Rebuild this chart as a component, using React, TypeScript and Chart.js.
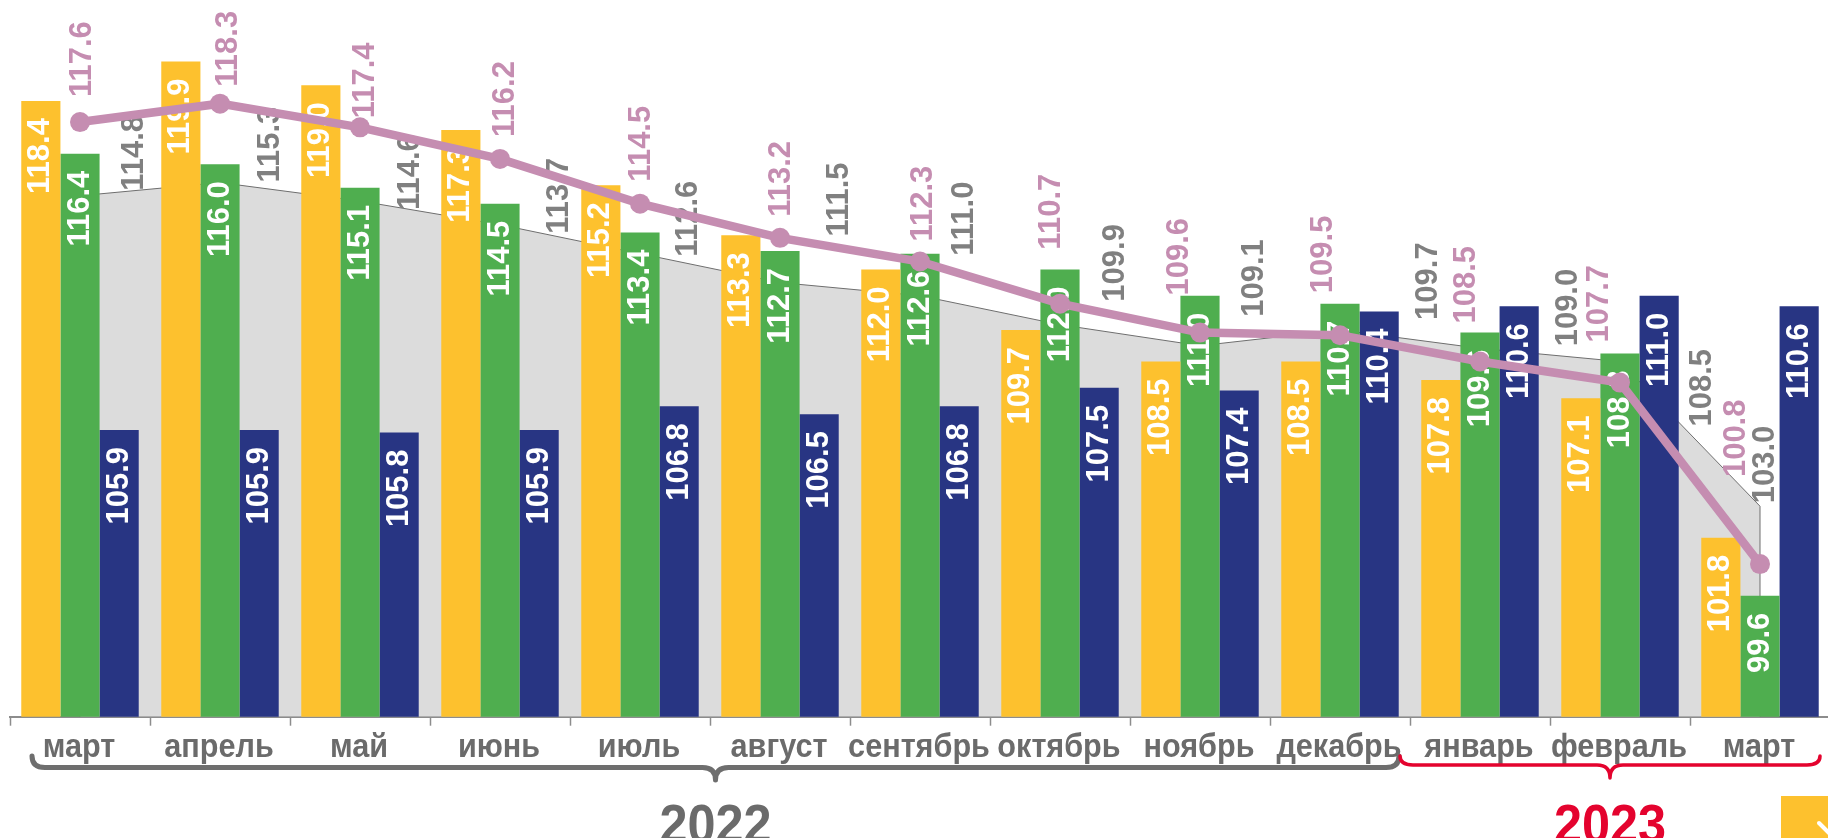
import React, { useEffect, useRef } from 'react';
import { Chart, registerables } from 'chart.js';

Chart.register(...registerables);

// ---------- data ----------
const months = ['март', 'апрель', 'май', 'июнь', 'июль', 'август', 'сентябрь', 'октябрь', 'ноябрь', 'декабрь', 'январь', 'февраль', 'март'];
const yellowValues = [118.4, 119.9, 119.0, 117.3, 115.2, 113.3, 112.0, 109.7, 108.5, 108.5, 107.8, 107.1, 101.8];
const greenValues = [116.4, 116.0, 115.1, 114.5, 113.4, 112.7, 112.6, 112.0, 111.0, 110.7, 109.6, 108.8, 99.6];
const blueValues = [105.9, 105.9, 105.8, 105.9, 106.8, 106.5, 106.8, 107.5, 107.4, 110.4, 110.6, 111.0, 110.6];
const areaValues = [114.8, 115.3, 114.6, 113.7, 112.6, 111.5, 111.0, 109.9, 109.1, 109.7, 109.0, 108.5, 103.0];
const lineValues = [117.6, 118.3, 117.4, 116.2, 114.5, 113.2, 112.3, 110.7, 109.6, 109.5, 108.5, 107.7, 100.8];
const yearLabels = ['2022', '2023'];
const yearFirstIndex = [0, 10];
const yearLastIndex = [9, 12];

// ---------- label nudges (style only) ----------
const lineLabelDx = [2, 8, 5, 5, 1, 1, 3, -9, -21, -17, -14, -21, -24];
const lineLabelGap = [25, 17, 9, 22, 22, 21, 20, 54, 37, 42, 38, 40, 87];
const areaLabelDx = [54, 50, 50, 59, 48, 59, 44, 55, 54, 88, 88, 82, 5];
const areaLabelGap = [5, 0, -9, -9, -3, 46, 40, 23, 29, 10, 2, -65, 3];
const BAR_LABEL_GAP = 17;

const YELLOW = '#FDC12E';
const GREEN = '#4FAE4F';
const BLUE = '#283583';
const AREA_FILL = '#DCDCDC';
const AREA_LINE = '#6E6E6E';
const PINK = '#C58DB1';
const GRAY_TEXT = '#808080';
const AXIS_TEXT = '#6B6B6B';
const RED = '#E4032E';

const LABEL_FONT = 'bold 31px "Liberation Sans", Arial, sans-serif';
const AXIS_FONT = 'bold 34px "Liberation Sans", Arial, sans-serif';
const YEAR_FONT = 'bold 56px "Liberation Sans", Arial, sans-serif';
const NARROW = 0.9;

const labelPlugin = {
  id: 'customLabels',
  afterDatasetDraw(chart: any, args: any) {
    const ctx = chart.ctx as CanvasRenderingContext2D;
    const ds = chart.data.datasets[args.index];
    const meta = args.meta;
    const kind = ds.label;
    ctx.save();
    ctx.font = LABEL_FONT;
    ctx.textBaseline = 'middle';
    if (kind === 'area') {
      const els = meta.data;
      const bottom = chart.chartArea.bottom;
      ctx.strokeStyle = AREA_LINE;
      ctx.lineWidth = 1;
      [els[0], els[els.length - 1]].forEach((el: any) => {
        ctx.beginPath();
        ctx.moveTo(el.x, el.y);
        ctx.lineTo(el.x, bottom);
        ctx.stroke();
      });
    }
    meta.data.forEach((el: any, i: number) => {
      const v = ds.data[i] as number;
      const txt = v.toFixed(1);
      ctx.save();
      if (kind === 'area') {
        ctx.translate(el.x + areaLabelDx[i], el.y - areaLabelGap[i]);
        ctx.rotate(-Math.PI / 2);
        ctx.textAlign = 'left';
        ctx.fillStyle = GRAY_TEXT;
      } else if (kind === 'line') {
        ctx.translate(el.x + lineLabelDx[i], el.y - lineLabelGap[i]);
        ctx.rotate(-Math.PI / 2);
        ctx.textAlign = 'left';
        ctx.fillStyle = PINK;
      } else {
        ctx.translate(el.x, el.y + BAR_LABEL_GAP);
        ctx.rotate(-Math.PI / 2);
        ctx.textAlign = 'right';
        ctx.fillStyle = '#FFFFFF';
      }
      ctx.fillText(txt, 0, 0);
      ctx.restore();
    });
    ctx.restore();
  },
};

function drawBrace(ctx: CanvasRenderingContext2D, x0: number, x1: number, yEnd: number, yLine: number, yTip: number, r: number) {
  const mid = (x0 + x1) / 2;
  ctx.beginPath();
  ctx.moveTo(x0, yEnd);
  ctx.quadraticCurveTo(x0, yLine, x0 + r, yLine);
  ctx.lineTo(mid - r, yLine);
  ctx.quadraticCurveTo(mid, yLine, mid, yTip);
  ctx.quadraticCurveTo(mid, yLine, mid + r, yLine);
  ctx.lineTo(x1 - r, yLine);
  ctx.quadraticCurveTo(x1, yLine, x1, yEnd);
  ctx.stroke();
}

const decorPlugin = {
  id: 'decor',
  afterDraw(chart: any) {
    const ctx = chart.ctx as CanvasRenderingContext2D;
    const xs = chart.scales.x;
    const step = xs.getPixelForValue(1) - xs.getPixelForValue(0);
    ctx.save();
    // category labels (condensed bold)
    ctx.font = AXIS_FONT;
    ctx.fillStyle = AXIS_TEXT;
    ctx.textAlign = 'center';
    ctx.textBaseline = 'alphabetic';
    months.forEach((m, i) => {
      ctx.save();
      ctx.translate(xs.getPixelForValue(i) - 1, 757);
      ctx.scale(NARROW, 1);
      ctx.fillText(m, 0, 0);
      ctx.restore();
    });
    const styles = [
      { color: '#6E6E6E', width: 5, start: 22, end: -11, yLine: 767.5, yTip: 780, text: AXIS_TEXT },
      { color: RED, width: 3.5, start: -10, end: -10, yLine: 765, yTip: 778, text: RED },
    ];
    ctx.lineCap = 'round';
    ctx.lineJoin = 'round';
    yearLabels.forEach((yl, k) => {
      const s = styles[k];
      const left = xs.getPixelForValue(yearFirstIndex[k]) - step / 2 + s.start;
      const right = xs.getPixelForValue(yearLastIndex[k]) + step / 2 + s.end;
      ctx.strokeStyle = s.color;
      ctx.lineWidth = s.width;
      drawBrace(ctx, left, right, 756, s.yLine, s.yTip, 13);
      const mid = (left + right) / 2;
      ctx.save();
      ctx.translate(mid, 843);
      ctx.scale(NARROW, 1);
      ctx.font = YEAR_FONT;
      ctx.fillStyle = s.text;
      ctx.textAlign = 'center';
      ctx.textBaseline = 'alphabetic';
      ctx.fillText(yl, 0, 0);
      ctx.restore();
    });
    // partial legend marker at bottom right
    ctx.fillStyle = YELLOW;
    ctx.fillRect(1781, 796, 60, 50);
    ctx.strokeStyle = '#FFFFFF';
    ctx.lineWidth = 4;
    ctx.beginPath();
    ctx.moveTo(1819, 823);
    ctx.lineTo(1830, 834);
    ctx.stroke();
    ctx.restore();
  },
};

export default function App() {
  const ref = useRef<HTMLCanvasElement>(null);
  useEffect(() => {
    if (!ref.current) return;
    const chart = new Chart(ref.current, {
      type: 'bar',
      data: {
        labels: months,
        datasets: [
          {
            type: 'line',
            label: 'line',
            data: lineValues,
            borderColor: PINK,
            backgroundColor: PINK,
            borderWidth: 8.5,
            pointRadius: 10,
            pointBackgroundColor: PINK,
            pointBorderWidth: 0,
            tension: 0,
            fill: false,
            order: 0,
            clip: false,
          } as any,
          {
            type: 'bar',
            label: 'yellow',
            data: yellowValues,
            backgroundColor: YELLOW,
            order: 1,
          },
          {
            type: 'bar',
            label: 'green',
            data: greenValues,
            backgroundColor: GREEN,
            order: 1,
          },
          {
            type: 'bar',
            label: 'blue',
            data: blueValues,
            backgroundColor: BLUE,
            order: 1,
          },
          {
            type: 'line',
            label: 'area',
            data: areaValues,
            borderColor: AREA_LINE,
            backgroundColor: AREA_FILL,
            borderWidth: 1,
            pointRadius: 0,
            tension: 0,
            fill: 'start',
            order: 2,
          } as any,
        ],
      },
      options: {
        animation: false,
        responsive: true,
        maintainAspectRatio: false,
        layout: { padding: { left: 8, right: 3.3, top: 0, bottom: 0 } },
        datasets: {
          bar: { categoryPercentage: 0.839, barPercentage: 1.0 },
        },
        plugins: {
          legend: { display: false },
          tooltip: { enabled: false },
        },
        scales: {
          x: {
            offset: true,
            grid: {
              offset: true,
              drawOnChartArea: false,
              drawTicks: true,
              tickLength: 9,
              tickColor: '#8C8C8C',
              tickWidth: 1.5,
            } as any,
            border: { display: true, color: '#8C8C8C', width: 2 },
            ticks: { display: false, autoSkip: false, maxRotation: 0, minRotation: 0 },
            afterFit: (scale: any) => {
              scale.height = 121.3;
            },
          },
          y: {
            display: false,
            min: 95,
            max: 121.86,
          },
        },
      },
      plugins: [labelPlugin, decorPlugin],
    });
    return () => chart.destroy();
  }, []);
  return (
    <div style={{ position: 'fixed', left: 0, top: 0, width: '1828px', height: '838px', overflow: 'hidden', background: '#fff' }}>
      <div style={{ position: 'absolute', left: 0, top: 0, width: '1840px', height: '838px' }}>
        <canvas ref={ref} />
      </div>
    </div>
  );
}
